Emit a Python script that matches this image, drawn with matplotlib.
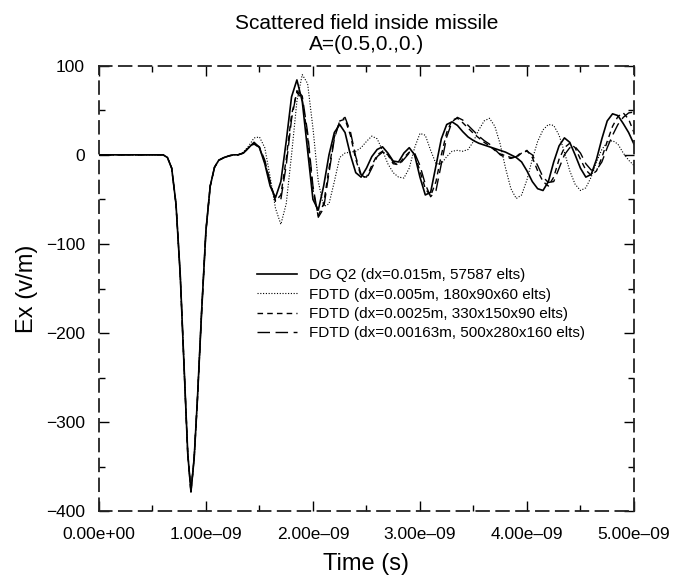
import numpy as np
import matplotlib
matplotlib.use('Agg')
import matplotlib.pyplot as plt
from matplotlib.ticker import MultipleLocator, FuncFormatter

plt.rcParams['font.family'] = ['Liberation Sans', 'DejaVu Sans']

# time in ns: pulse part, then the ringing part on a 0.05 ns grid
t_pulse = [0.0, 0.3, 0.55, 0.60, 0.64, 0.68, 0.72, 0.76, 0.80, 0.83, 0.86,
           0.89, 0.92, 0.96, 1.00, 1.04, 1.08, 1.12, 1.17, 1.22, 1.26]
ex_pulse = [0, 0, 0, 0, -3, -15, -55, -135, -250, -335, -378,
            -340, -275, -175, -85, -35, -14, -6, -3, -1, 0]

t_ring = [1.30, 1.35, 1.40, 1.45, 1.50, 1.55, 1.60, 1.65, 1.70, 1.75,
          1.80, 1.85, 1.90, 1.95, 2.00, 2.05, 2.10, 2.15, 2.20, 2.25,
          2.30, 2.35, 2.40, 2.45, 2.50, 2.55, 2.60, 2.65, 2.70, 2.75,
          2.80, 2.85, 2.90, 2.95, 3.00, 3.05, 3.10, 3.15, 3.20, 3.25,
          3.30, 3.35, 3.40, 3.45, 3.50, 3.55, 3.60, 3.65, 3.70, 3.75,
          3.80, 3.85, 3.90, 3.95, 4.00, 4.05, 4.10, 4.15, 4.20, 4.25,
          4.30, 4.35, 4.40, 4.45, 4.50, 4.55, 4.60, 4.65, 4.70, 4.75,
          4.80, 4.85, 4.90, 4.95, 5.00]

dg_q2 = [0, 2, 8, 14, 8, -10, -35, -48, -30, 15,
         65, 84, 60, 5, -50, -62, -35, 0, 25, 34,
         25, 0, -20, -25, -15, -2, 6, 9, 2, -7,
         -8, 2, 8, 0, -25, -45, -42, -12, 18, 34,
         37, 33, 26, 20, 16, 13, 11, 9, 7, 5,
         3, 0, -3, -8, -18, -30, -38, -40, -30, -8,
         10, 19, 14, 0, -15, -25, -22, -5, 18, 38,
         46, 44, 35, 25, 12]

fdtd_005 = [0, 3, 10, 19, 20, 8, -25, -60, -78, -55,
            0, 60, 90, 80, 30, -30, -58, -55, -30, -3,
            2, 3, 4, 8, 15, 21, 18, 5, -10, -20,
            -25, -26, -15, 8, 24, 22, 5, -10, -10, -2,
            4, 5, 4, 6, 15, 28, 38, 41, 32, 12,
            -15, -38, -49, -45, -28, -5, 15, 28, 34, 33,
            22, 3, -18, -33, -40, -37, -25, -8, 6, 14,
            16, 12, 2, -6, -12]

fdtd_0025 = [0, 2, 8, 12, 8, -8, -32, -52, -45, -5,
             45, 70, 62, 20, -40, -68, -55, -15, 20, 38,
             40, 22, -5, -24, -25, -12, 0, 4, 0, -10,
             -11, -3, 3, 0, -18, -38, -46, -30, 0, 25,
             39, 41, 36, 30, 24, 19, 14, 10, 5, 1,
             -1, -3, -3, 2, 5, -3, -18, -30, -35, -25,
             -5, 8, 13, 8, -5, -17, -23, -18, -3, 15,
             32, 43, 47, 40, 25]

fdtd_00163 = [0, 2, 8, 13, 9, -6, -30, -52, -50, -12,
              40, 72, 66, 25, -35, -70, -60, -20, 18, 38,
              42, 26, -2, -22, -27, -15, -2, 3, 1, -8,
              -12, -5, 2, 2, -12, -33, -47, -40, -10, 20,
              37, 42, 39, 33, 27, 21, 16, 12, 6, 0,
              -3, -4, -2, 3, 4, 0, -12, -25, -31, -30,
              -15, 0, 8, 9, 2, -10, -17, -17, -8, 8,
              22, 34, 42, 47, 48]

labels = ['DG Q2 (dx=0.015m, 57587 elts)',
          'FDTD (dx=0.005m, 180x90x60 elts)',
          'FDTD (dx=0.0025m, 330x150x90 elts)',
          'FDTD (dx=0.00163m, 500x280x160 elts)']

t = np.array(t_pulse + t_ring) * 1e-9

fig = plt.figure(figsize=(6.73, 5.76), dpi=100)
ax = fig.add_axes([0.147, 0.112, 0.795, 0.774])

ax.plot(t, ex_pulse + dg_q2, color='k', lw=1.2, ls='-', label=labels[0])
ax.plot(t, ex_pulse + fdtd_005, color='k', lw=0.8, ls=(0, (1, 1.5)), label=labels[1])
ax.plot(t, ex_pulse + fdtd_0025, color='k', lw=1.0, ls=(0, (4, 3)), label=labels[2])
ax.plot(t, ex_pulse + fdtd_00163, color='k', lw=1.0, ls=(0, (9, 4)), label=labels[3])

ax.set_xlim(0, 5e-9)
ax.set_ylim(-400, 100)
ax.xaxis.set_major_locator(MultipleLocator(1e-9))
ax.xaxis.set_minor_locator(MultipleLocator(0.5e-9))
ax.yaxis.set_major_locator(MultipleLocator(100))
ax.yaxis.set_minor_locator(MultipleLocator(50))
ax.xaxis.set_major_formatter(FuncFormatter(lambda v, p: ('%.2e' % v).replace('-', '\u2013')))
ax.tick_params(which='both', direction='in', top=True, right=True)
ax.tick_params(axis='x', labelsize=12.5, pad=11)
ax.tick_params(axis='y', labelsize=12.5, pad=10)
ax.tick_params(which='major', length=7, width=1)
ax.tick_params(which='minor', length=4, width=1)

for s in ax.spines.values():
    s.set_linestyle((0, (7, 4)))
    s.set_linewidth(1.3)
    s.set_color('#222222')

ax.set_title('Scattered field inside missile\nA=(0.5,0.,0.)', fontsize=15, pad=11, linespacing=1.15)
ax.set_xlabel('Time (s)', fontsize=17, labelpad=8)
ax.set_ylabel('Ex (v/m)', fontsize=17, labelpad=6)

ax.legend(loc='center left', bbox_to_anchor=(0.27, 0.465), frameon=False, fontsize=11,
          handlelength=2.6, labelspacing=0.35, handletextpad=0.8)

fig.savefig('out.png', dpi=100)
